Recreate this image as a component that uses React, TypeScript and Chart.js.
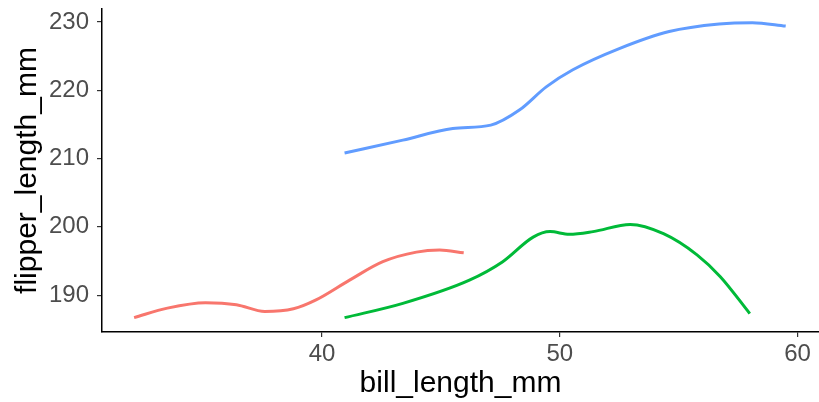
import React, { useEffect, useRef } from "react";
import { Chart, registerables } from "chart.js";

Chart.register(...registerables);

// Smoothed flipper_length_mm vs bill_length_mm, one curve per species
const adelieBill = [32.1, 33.5, 35.1, 36.4, 37.6, 38.8, 39.75, 41.16, 42.56, 43.97, 44.95, 45.96];
const adelieFlipper = [186.7, 188.1, 188.9, 188.6, 187.6, 188.0, 189.3, 192.2, 194.9, 196.3, 196.6, 196.2];

const chinstrapBill = [40.95, 43.4, 46.2, 47.6, 48.88, 49.59, 50.4, 51.4, 52.96, 54.36, 55.77, 56.75, 57.99];
const chinstrapFlipper = [186.7, 188.8, 192.2, 194.9, 198.5, 199.3, 198.9, 199.3, 200.35, 199.0, 195.9, 192.7, 187.3];

const gentooBill = [40.95, 43.4, 45.5, 47.1, 48.3, 49.43, 50.55, 52.5, 54.6, 56.7, 58.1, 59.5];
const gentooFlipper = [210.8, 212.7, 214.4, 214.9, 217.1, 220.5, 223.0, 226.1, 228.6, 229.7, 229.9, 229.4];

const xTicks = [40, 50, 60];
const yTicks = [190, 200, 210, 220, 230];

const toPoints = (xs: number[], ys: number[]) => xs.map((x, i) => ({ x, y: ys[i] }));

export default function App() {
  const ref = useRef<HTMLCanvasElement | null>(null);

  useEffect(() => {
    document.body.style.margin = "0";
    const canvas = ref.current;
    if (!canvas) return;
    const tickFont = { family: "'Liberation Sans', Arial, sans-serif", size: 24 };
    const titleFont = { family: "'Liberation Sans', Arial, sans-serif", size: 30 };
    const line = (xs: number[], ys: number[], color: string) => ({
      data: toPoints(xs, ys),
      borderColor: color,
      backgroundColor: color,
      borderWidth: 3,
      pointRadius: 0,
      cubicInterpolationMode: "monotone" as const,
      fill: false,
    });
    const chart = new Chart(canvas, {
      type: "line",
      data: {
        datasets: [
          line(adelieBill, adelieFlipper, "#F8766D"),
          line(chinstrapBill, chinstrapFlipper, "#00BA38"),
          line(gentooBill, gentooFlipper, "#619CFF"),
        ],
      },
      options: {
        animation: false,
        responsive: false,
        maintainAspectRatio: false,
        layout: { padding: { top: 9, right: 0, left: 0, bottom: 0 } },
        plugins: { legend: { display: false }, tooltip: { enabled: false } },
        scales: {
          x: {
            type: "linear",
            min: 30.75,
            max: 60.9,
            afterFit: (s: any) => { s.height = 70; s.paddingLeft = 0; s.paddingRight = 0; },
            afterBuildTicks: (s: any) => { s.ticks = xTicks.map((v) => ({ value: v })); },
            border: { display: true, color: "#000", width: 1.5 },
            grid: { drawOnChartArea: false, drawTicks: true, tickLength: 5, color: "#333", lineWidth: 1.2 },
            ticks: { font: tickFont, color: "#4d4d4d", padding: 3, maxRotation: 0, includeBounds: false },
            title: { display: true, text: "bill_length_mm", font: titleFont, color: "#000", padding: { top: 0, bottom: 0 } },
          },
          y: {
            type: "linear",
            min: 184.6,
            max: 231.9,
            afterFit: (s: any) => { s.width = 102; s.paddingTop = 0; s.paddingBottom = 0; },
            afterBuildTicks: (s: any) => { s.ticks = yTicks.map((v) => ({ value: v })); },
            border: { display: true, color: "#000", width: 1.5 },
            grid: { drawOnChartArea: false, drawTicks: true, tickLength: 5, color: "#333", lineWidth: 1.2 },
            ticks: { font: tickFont, color: "#4d4d4d", padding: 8, includeBounds: false },
            title: { display: true, text: "flipper_length_mm", font: titleFont, color: "#000", padding: { top: 10, bottom: 0 } },
          },
        },
      },
    });
    return () => chart.destroy();
  }, []);

  return <canvas ref={ref} width={819} height={402} style={{ display: "block" }} />;
}
